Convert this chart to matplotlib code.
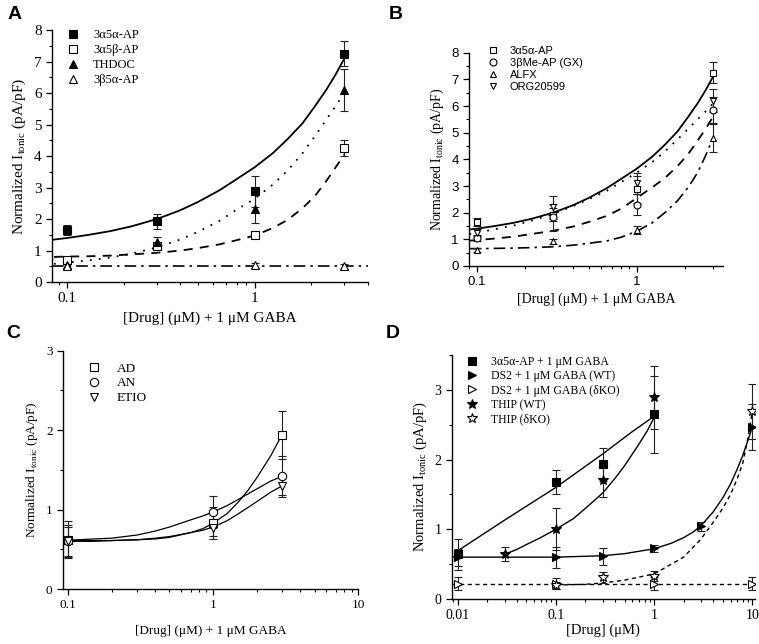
import matplotlib
matplotlib.use("Agg")
import matplotlib.pyplot as plt
import matplotlib.ticker as mticker
import numpy as np

plt.rcParams["font.family"] = ["Liberation Serif", "DejaVu Serif"]
plt.rcParams["mathtext.fontset"] = "custom"
plt.rcParams["mathtext.rm"] = "Liberation Serif"
plt.rcParams["axes.linewidth"] = 1.0

SERIF = "Liberation Serif"
SANS = "Liberation Sans"

# ---- Panel A : neurosteroids ----
A_X = [0.1, 0.3, 1, 3]
A_3A5A = [1.66, 1.93, 2.88, 7.25]
A_3A5A_ERR = [0.15, 0.24, 0.5, 0.4]
A_3A5B = [0.69, 1.15, 1.5, 4.27]
A_3A5B_ERR = [0.12, 0.1, 0.1, 0.25]
A_THDOC = [0.55, 1.27, 2.33, 6.1]
A_THDOC_ERR = [0.1, 0.15, 0.45, 0.68]
A_3B5A = [0.5, None, 0.53, 0.5]
A_3B5A_ERR = [0.08, 0, 0.08, 0.08]

A_FIT_X = [0.085, 0.1, 0.13, 0.17, 0.22, 0.3, 0.4, 0.5, 0.65, 0.8, 1,
           1.25, 1.5, 1.8, 2.1, 2.4, 2.7, 3]
A_FIT_3A5A = [1.35, 1.40, 1.50, 1.62, 1.77, 2.0, 2.28, 2.55, 2.92, 3.27, 3.65,
              4.1, 4.55, 5.05, 5.6, 6.1, 6.6, 7.1]
A_FIT_THDOC = [0.58, 0.62, 0.69, 0.78, 0.90, 1.1, 1.35, 1.6, 1.95, 2.3, 2.65,
               3.1, 3.55, 4.1, 4.65, 5.15, 5.6, 6.0]
A_FIT_3A5B = [0.8, 0.81, 0.82, 0.84, 0.88, 0.93, 1.0, 1.08, 1.2, 1.33, 1.48,
              1.72, 1.98, 2.35, 2.75, 3.2, 3.65, 4.05]
A_FIT_3B5A_X = [0.083, 4.0]
A_FIT_3B5A = [0.51, 0.51]

# ---- Panel B : synthetic steroids ----
B_X = [0.1, 0.3, 1, 3]
B_3A5A = [1.66, 1.93, 2.88, 7.25]
B_3A5A_ERR = [0.15, 0.24, 0.5, 0.4]
B_GX = [1.05, 1.82, 2.3, 5.85]
B_GX_ERR = [0.1, 0.5, 0.4, 0.5]
B_ALFX = [0.6, 0.93, 1.35, 4.8]
B_ALFX_ERR = [0.08, 0.1, 0.15, 0.53]
B_ORG = [1.25, 2.2, 3.1, 6.2]
B_ORG_ERR = [0.12, 0.43, 0.4, 0.43]

B_FIT_X = [0.09, 0.1, 0.13, 0.17, 0.22, 0.3, 0.4, 0.5, 0.65, 0.8, 1,
           1.25, 1.5, 1.8, 2.1, 2.4, 2.7, 3]
B_FIT_3A5A = [1.37, 1.40, 1.50, 1.62, 1.77, 2.0, 2.28, 2.55, 2.92, 3.27, 3.65,
              4.1, 4.55, 5.05, 5.6, 6.1, 6.6, 7.1]
B_FIT_ORG = [1.2, 1.25, 1.38, 1.52, 1.7, 1.95, 2.25, 2.5, 2.82, 3.15, 3.5,
             3.9, 4.3, 4.75, 5.15, 5.5, 5.8, 6.1]
B_FIT_GX = [0.95, 0.97, 1.03, 1.1, 1.2, 1.32, 1.48, 1.65, 1.88, 2.15, 2.55,
            2.95, 3.3, 3.75, 4.2, 4.7, 5.15, 5.6]
B_FIT_ALFX = [0.65, 0.65, 0.66, 0.67, 0.69, 0.72, 0.78, 0.85, 0.94, 1.08, 1.3,
              1.62, 2.0, 2.45, 2.95, 3.5, 4.15, 4.8]

# ---- Panel C : androgens ----
C_X = [0.1, 1, 3]
C_AD = [0.62, 0.83, 1.94]
C_AD_ERR = [0.23, 0.2, 0.3]
C_AN = [0.6, 0.97, 1.42]
C_AN_ERR = [0.2, 0.2, 0.26]
C_ETIO = [0.6, 0.77, 1.3]
C_ETIO_ERR = [0.18, 0.1, 0.12]

C_FIT_X = [0.092, 0.15, 0.2, 0.3, 0.4, 0.5, 0.7, 0.85, 1, 1.25, 1.5, 1.75, 2, 2.5, 3]
C_FIT_AD = [0.61, 0.61, 0.61, 0.62, 0.63, 0.65, 0.71, 0.76, 0.83, 0.95, 1.1,
            1.25, 1.4, 1.68, 1.95]
C_FIT_AN = [0.61, 0.63, 0.64, 0.68, 0.73, 0.78, 0.87, 0.92, 0.97, 1.05, 1.13,
            1.2, 1.26, 1.36, 1.42]
C_FIT_ETIO = [0.6, 0.6, 0.61, 0.62, 0.64, 0.66, 0.71, 0.74, 0.78, 0.86, 0.95,
              1.03, 1.1, 1.22, 1.3]

# ---- Panel D : DS2 / THIP ----
D_SQ_X = [0.01, 0.1, 0.3, 1]
D_SQ = [0.64, 1.68, 1.93, 2.65]
D_SQ_ERR = [0.22, 0.17, 0.24, 0.55]
D_DS2_X = [0.01, 0.1, 0.3, 1, 3, 10]
D_DS2_WT = [0.6, 0.6, 0.61, 0.73, 1.04, 2.46]
D_DS2_WT_ERR = [0.12, 0.15, 0.12, 0.05, 0.07, 0.33]
D_DS2KO_X = [0.01, 0.1, 1, 10]
D_DS2_KO = [0.22, 0.22, 0.22, 0.22]
D_DS2_KO_ERR = [0.09, 0.08, 0.09, 0.09]
D_THIP_X = [0.03, 0.1, 0.3, 1]
D_THIP_WT = [0.64, 1.0, 1.71, 2.89]
D_THIP_WT_ERR = [0.1, 0.3, 0.25, 0.45]
D_THIPKO_X = [0.1, 0.3, 1, 10]
D_THIP_KO = [0.2, 0.31, 0.33, 2.69]
D_THIP_KO_ERR = [0.05, 0.08, 0.07, 0.4]

D_FIT_SQ_X = [0.01, 0.03, 0.1, 0.3, 0.6, 1]
D_FIT_SQ = [0.69, 1.13, 1.6, 2.08, 2.4, 2.62]
D_FIT_THIP_X = [0.03, 0.04, 0.05, 0.07, 0.1, 0.15, 0.2, 0.3, 0.4, 0.5, 0.7, 0.85, 1]
D_FIT_THIP = [0.64, 0.71, 0.78, 0.88, 1.0, 1.15, 1.3, 1.52, 1.73, 1.91, 2.22, 2.41, 2.6]
D_FIT_DS2_X = [0.0088, 0.1, 0.3, 0.5, 1, 1.5, 2, 2.5, 3, 4, 5, 6, 7, 8, 9, 10]
D_FIT_DS2 = [0.6, 0.6, 0.62, 0.65, 0.72, 0.8, 0.88, 0.96, 1.05, 1.25, 1.45,
             1.65, 1.86, 2.06, 2.27, 2.47]
D_FIT_KO_X = [0.0088, 10.5]
D_FIT_KO = [0.22, 0.22]
D_FIT_THIPKO_X = [0.1, 0.2, 0.3, 0.5, 1, 2, 3, 4, 5, 6, 7, 8, 9, 10]
D_FIT_THIPKO = [0.2, 0.21, 0.23, 0.27, 0.36, 0.6, 0.86, 1.1, 1.3, 1.5, 1.72, 1.95, 2.3, 2.69]

YLABEL = r"Normalized I$_{\rm tonic}$ (pA/pF)"

DOTTED = (0, (1, 4))
DASHED = (0, (5, 4))
DASHDOT = (0, (7, 3, 1.5, 3))


def series(ax, x, y, err, marker, filled, label, ms=5.5):
    xs = [a for a, b in zip(x, y) if b is not None]
    ys = [b for b in y if b is not None]
    es = [e for e, b in zip(err, y) if b is not None]
    ax.errorbar(xs, ys, yerr=es, fmt="none", ecolor="#222222",
                elinewidth=0.8, capsize=3, capthick=0.8, zorder=3)
    ax.plot(xs, ys, ls="none", marker=marker, ms=ms,
            mfc="black" if filled else "white", mec="black", mew=0.8,
            label=label, zorder=4)


def style_axis(ax, xlim, ylim, xticks, xlabels, yticks, fs=10):
    ax.set_xscale("log")
    ax.set_xlim(*xlim)
    ax.set_ylim(*ylim)
    ax.set_xticks(xticks)
    ax.set_xticklabels(xlabels)
    ax.xaxis.set_minor_locator(mticker.LogLocator(base=10, subs=np.arange(2, 10)))
    ax.xaxis.set_minor_formatter(mticker.NullFormatter())
    ax.set_yticks(yticks)
    ax.yaxis.set_minor_locator(mticker.MultipleLocator(0.5))
    ax.spines["top"].set_visible(False)
    ax.spines["right"].set_visible(False)
    ax.tick_params(which="major", length=4, width=0.9, labelsize=fs)
    ax.tick_params(which="minor", length=2.5, width=0.8)


def plot_a(fig):
    ax = fig.add_axes([0.0685, 0.562, 0.416, 0.391])
    ax.plot(A_FIT_X, A_FIT_3A5A, color="black", lw=1.3)
    ax.plot(A_FIT_X, A_FIT_THDOC, color="black", lw=1.3, ls=DOTTED)
    ax.plot(A_FIT_X, A_FIT_3A5B, color="black", lw=1.3, ls=DASHED)
    ax.plot(A_FIT_3B5A_X, A_FIT_3B5A, color="black", lw=1.2, ls=DASHDOT)
    series(ax, A_X, A_3A5A, A_3A5A_ERR, "s", True, "3α5α-AP")
    series(ax, A_X, A_3A5B, A_3A5B_ERR, "s", False, "3α5β-AP")
    series(ax, A_X, A_THDOC, A_THDOC_ERR, "^", True, "THDOC")
    series(ax, A_X, A_3B5A, A_3B5A_ERR, "^", False, "3β5α-AP")
    style_axis(ax, (0.083, 4.0), (0, 8), [0.1, 1], ["0.1", "1"], range(0, 9), fs=11)
    ax.set_ylabel(YLABEL, fontsize=11)
    ax.set_xlabel("[Drug] (μM) + 1 μM GABA", fontsize=11, labelpad=4)
    ax.legend(loc="upper left", bbox_to_anchor=(0.0, 1.04), frameon=False,
              fontsize=9, handletextpad=0.6, labelspacing=0.25, borderpad=0.2)


def plot_b(fig):
    ax = fig.add_axes([0.618, 0.587, 0.335, 0.331])
    ax.plot(B_FIT_X, B_FIT_3A5A, color="black", lw=1.3)
    ax.plot(B_FIT_X, B_FIT_ORG, color="black", lw=1.3, ls=DOTTED)
    ax.plot(B_FIT_X, B_FIT_GX, color="black", lw=1.3, ls=DASHED)
    ax.plot(B_FIT_X, B_FIT_ALFX, color="black", lw=1.2, ls=DASHDOT)
    series(ax, B_X, B_3A5A, B_3A5A_ERR, "s", False, "3α5α-AP", ms=5)
    series(ax, B_X, B_GX, B_GX_ERR, "o", False, "3βMe-AP (GX)", ms=5)
    series(ax, B_X, B_ALFX, B_ALFX_ERR, "^", False, "ALFX", ms=5)
    series(ax, B_X, B_ORG, B_ORG_ERR, "v", False, "ORG20599", ms=5)
    style_axis(ax, (0.0895, 3.48), (0, 8), [0.1, 1], ["0.1", "1"], range(0, 9), fs=9.5)
    ax.tick_params(labelfontfamily=SANS)
    ax.set_ylabel(YLABEL, fontsize=10)
    ax.set_xlabel("[Drug] (μM) + 1 μM GABA", fontsize=10, labelpad=3)
    ax.legend(loc="upper left", bbox_to_anchor=(0.02, 1.07), frameon=False,
              handletextpad=0.5, labelspacing=0.2, borderpad=0.2,
              prop={"family": SANS, "size": 8})


def plot_c(fig):
    ax = fig.add_axes([0.083, 0.0854, 0.389, 0.37])
    ax.plot(C_FIT_X, C_FIT_AD, color="black", lw=0.9)
    ax.plot(C_FIT_X, C_FIT_AN, color="black", lw=0.9)
    ax.plot(C_FIT_X, C_FIT_ETIO, color="black", lw=0.9)
    series(ax, C_X, C_AD, C_AD_ERR, "s", False, "AD", ms=5.5)
    series(ax, C_X, C_AN, C_AN_ERR, "o", False, "AN", ms=6)
    series(ax, C_X, C_ETIO, C_ETIO_ERR, "v", False, "ETIO", ms=6)
    style_axis(ax, (0.0924, 10), (0, 3), [0.1, 1, 10], ["0.1", "1", "10"], range(0, 4), fs=9.5)
    ax.set_ylabel(YLABEL, fontsize=9.5)
    ax.set_xlabel("[Drug] (μM) + 1 μM GABA", fontsize=9.5, labelpad=10)
    ax.legend(loc="upper left", bbox_to_anchor=(0.03, 0.99), frameon=False,
              fontsize=9.5, handletextpad=0.7, labelspacing=0.2, borderpad=0.2)


def plot_d(fig):
    ax = fig.add_axes([0.5955, 0.0699, 0.399, 0.379])
    ax.plot(D_FIT_SQ_X, D_FIT_SQ, color="black", lw=1.0)
    ax.plot(D_FIT_THIP_X, D_FIT_THIP, color="black", lw=1.0)
    ax.plot(D_FIT_DS2_X, D_FIT_DS2, color="black", lw=1.0)
    ax.plot(D_FIT_KO_X, D_FIT_KO, color="black", lw=1.0, ls=(0, (3, 2.5)))
    ax.plot(D_FIT_THIPKO_X, D_FIT_THIPKO, color="black", lw=1.0, ls=(0, (3, 2.5)))
    series(ax, D_SQ_X, D_SQ, D_SQ_ERR, "s", True, "3α5α-AP + 1 μM GABA", ms=5.5)
    series(ax, D_DS2_X, D_DS2_WT, D_DS2_WT_ERR, ">", True, "DS2 + 1 μM GABA (WT)", ms=6)
    series(ax, D_DS2KO_X, D_DS2_KO, D_DS2_KO_ERR, ">", False, "DS2 + 1 μM GABA (δKO)", ms=6)
    series(ax, D_THIP_X, D_THIP_WT, D_THIP_WT_ERR, "*", True, "THIP (WT)", ms=7)
    series(ax, D_THIPKO_X, D_THIP_KO, D_THIP_KO_ERR, "*", False, "THIP (δKO)", ms=7)
    style_axis(ax, (0.00876, 10.6), (0, 3.5), [0.01, 0.1, 1, 10],
               ["0.01", "0.1", "1", "10"], range(0, 4), fs=10)
    ax.set_ylabel(YLABEL, fontsize=10.5)
    ax.set_xlabel("[Drug] (μM)", fontsize=10.5, labelpad=1)
    ax.legend(loc="upper left", bbox_to_anchor=(0.0, 1.03), frameon=False,
              fontsize=8.5, handletextpad=0.6, labelspacing=0.2, borderpad=0.2)


def main():
    fig = plt.figure(figsize=(7.59, 6.44), dpi=100)
    plot_a(fig)
    plot_b(fig)
    plot_c(fig)
    plot_d(fig)

    # panel letters
    for x, y, s in [(0.010, 0.978, "A"), (0.512, 0.978, "B"),
                    (0.008, 0.482, "C"), (0.508, 0.482, "D")]:
        fig.text(x, y, s, fontsize=14, fontweight="bold", family=SANS,
                 ha="left", va="center")

    fig.savefig("out.png", dpi=100)


if __name__ == "__main__":
    main()
